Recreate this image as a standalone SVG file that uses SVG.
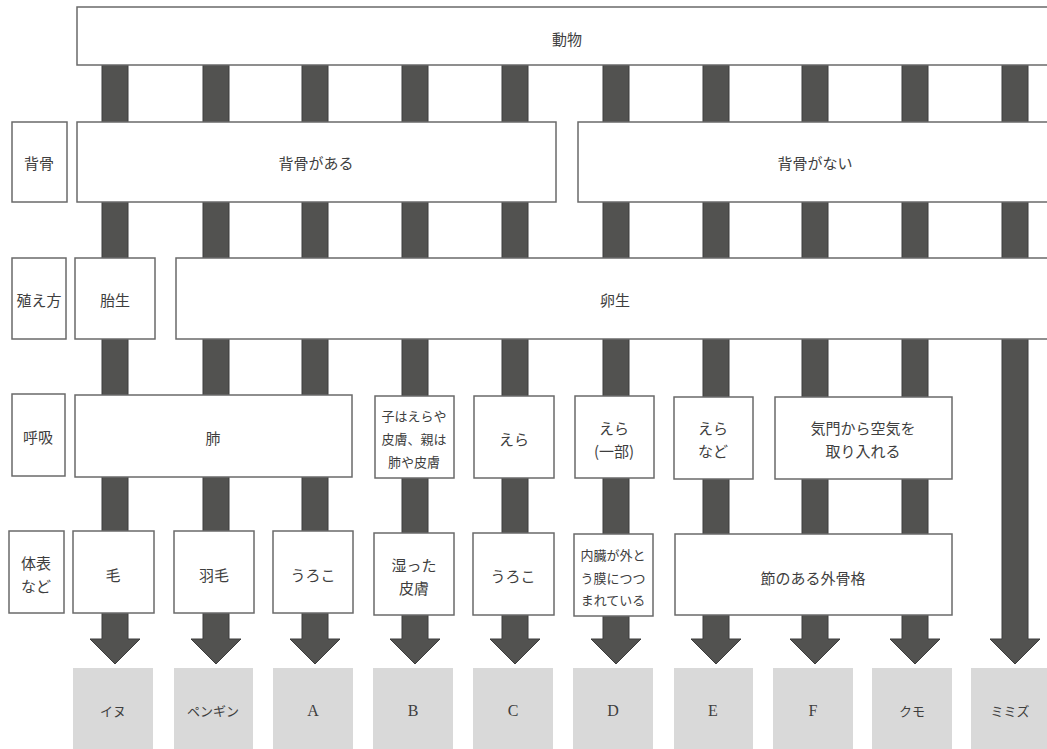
<svg xmlns="http://www.w3.org/2000/svg" width="1047" height="749" viewBox="0 0 1047 749">
<style>
.box{fill:#fff;stroke:#6a6a6a;stroke-width:1.5}
.lab{fill:#fff;stroke:#6a6a6a;stroke-width:1.5}
.res{fill:#d9d9d9;stroke:none}
.bar{fill:#525250;stroke:#3c3c3c;stroke-width:1}
text{font-family:"Noto Sans CJK JP","Noto Sans",sans-serif;font-size:15px;fill:#3e3e3e;text-anchor:middle;dominant-baseline:central}
.s{font-size:13px}
.r{font-family:"Liberation Serif","Noto Sans CJK JP",serif;font-size:16px}
.k{font-size:13px}
</style>
<rect width="1047" height="749" fill="#fff"/>
<g id="connectors">
<path class="bar" d="M102,65V639H90L115,664L140,639H128V65Z"/>
<path class="bar" d="M203,65V639H191L216,664L241,639H229V65Z"/>
<path class="bar" d="M302,65V639H290L315,664L340,639H328V65Z"/>
<path class="bar" d="M402,65V639H390L415,664L440,639H428V65Z"/>
<path class="bar" d="M502,65V639H490L515,664L540,639H528V65Z"/>
<path class="bar" d="M603,65V639H591L616,664L641,639H629V65Z"/>
<path class="bar" d="M703,65V639H691L716,664L741,639H729V65Z"/>
<path class="bar" d="M802,65V639H790L815,664L840,639H828V65Z"/>
<path class="bar" d="M902,65V639H890L915,664L940,639H928V65Z"/>
<path class="bar" d="M1002,65V639H990L1015,664L1040,639H1028V65Z"/>
</g>
<g id="animal"><rect class="box" x="77" y="7" width="990" height="58"/><text x="567" y="38">動物</text></g>
<g id="label-sebone"><rect class="lab" x="12" y="122" width="55" height="80"/><text x="39" y="162">背骨</text></g>
<g id="sebone-aru"><rect class="box" x="77" y="122" width="479" height="80"/><text x="316" y="162">背骨がある</text></g>
<g id="sebone-nai"><rect class="box" x="578" y="122" width="490" height="80"/><text x="815" y="162">背骨がない</text></g>
<g id="label-fuekata"><rect class="lab" x="12" y="258" width="54" height="81"/><text x="39" y="299">殖え方</text></g>
<g id="taisei"><rect class="box" x="75" y="258" width="80" height="81"/><text x="115" y="299">胎生</text></g>
<g id="ransei"><rect class="box" x="176" y="258" width="890" height="81"/><text x="615" y="299">卵生</text></g>
<g id="label-kokyu"><rect class="lab" x="12" y="394" width="53" height="82"/><text x="38" y="436">呼吸</text></g>
<g id="hai"><rect class="box" x="75" y="395" width="277" height="82"/><text x="213" y="437">肺</text></g>
<g id="ryoseirui-kokyu"><rect class="box" x="375" y="396" width="79" height="82"/><text class="s" x="414" y="415">子はえらや</text><text class="s" x="414" y="438">皮膚、親は</text><text class="s" x="414" y="461">肺や皮膚</text></g>
<g id="era"><rect class="box" x="474" y="396" width="80" height="82"/><text x="514" y="438">えら</text></g>
<g id="era-ichibu"><rect class="box" x="575" y="396" width="79" height="82"/><text x="614" y="427">えら</text><text x="614" y="450">(一部)</text></g>
<g id="era-nado"><rect class="box" x="674" y="397" width="79" height="82"/><text x="713" y="427">えら</text><text x="713" y="450">など</text></g>
<g id="kimon"><rect class="box" x="775" y="397" width="177" height="82"/><text x="863" y="427">気門から空気を</text><text x="863" y="450">取り入れる</text></g>
<g id="label-taihyo"><rect class="lab" x="9" y="531" width="55" height="82"/><text x="36" y="562">体表</text><text x="36" y="585">など</text></g>
<g id="ke"><rect class="box" x="73" y="531" width="81" height="82"/><text x="113" y="574">毛</text></g>
<g id="hane"><rect class="box" x="174" y="531" width="80" height="82"/><text x="214" y="574">羽毛</text></g>
<g id="uroko1"><rect class="box" x="273" y="531" width="80" height="82"/><text x="313" y="574">うろこ</text></g>
<g id="shimetta"><rect class="box" x="374" y="533" width="80" height="82"/><text x="414" y="564">湿った</text><text x="414" y="587">皮膚</text></g>
<g id="uroko2"><rect class="box" x="473" y="533" width="81" height="82"/><text x="513" y="575">うろこ</text></g>
<g id="gaitomaku"><rect class="box" x="574" y="534" width="79" height="82"/><text class="s" x="613" y="554">内臓が外と</text><text class="s" x="613" y="577">う膜につつ</text><text class="s" x="613" y="599">まれている</text></g>
<g id="gaikokkaku"><rect class="box" x="675" y="534" width="277" height="81"/><text x="813" y="577">節のある外骨格</text></g>
<g id="inu"><rect class="res" x="73" y="668" width="80" height="81"/><text class="k" x="113" y="710">イヌ</text></g>
<g id="pengin"><rect class="res" x="174" y="668" width="79" height="81"/><text class="k" x="213" y="710">ペンギン</text></g>
<g id="A"><rect class="res" x="273" y="668" width="80" height="81"/><text class="r" x="313" y="710">A</text></g>
<g id="B"><rect class="res" x="373" y="668" width="80" height="81"/><text class="r" x="413" y="710">B</text></g>
<g id="C"><rect class="res" x="473" y="668" width="80" height="81"/><text class="r" x="513" y="710">C</text></g>
<g id="D"><rect class="res" x="573" y="668" width="80" height="81"/><text class="r" x="613" y="710">D</text></g>
<g id="E"><rect class="res" x="674" y="668" width="79" height="81"/><text class="r" x="713" y="710">E</text></g>
<g id="F"><rect class="res" x="773" y="668" width="80" height="81"/><text class="r" x="813" y="710">F</text></g>
<g id="kumo"><rect class="res" x="872" y="668" width="80" height="81"/><text class="k" x="912" y="710">クモ</text></g>
<g id="mimizu"><rect class="res" x="971" y="668" width="80" height="81"/><text class="k" x="1010" y="710">ミミズ</text></g>
</svg>
